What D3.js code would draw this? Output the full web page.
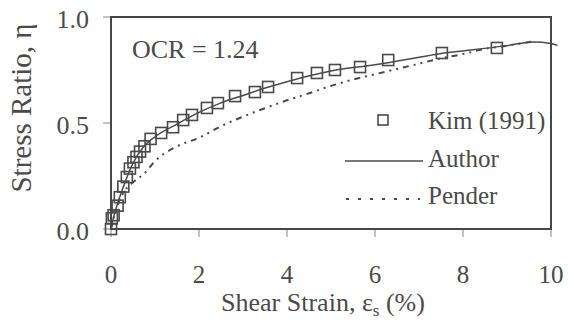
<!DOCTYPE html>
<html>
<head>
<meta charset="utf-8">
<script src="https://cdn.jsdelivr.net/npm/d3@7"></script>
</head>
<body style="margin:0">
<svg id="s" width="568" height="322"></svg>
<script>
// Measured stress ratio (Kim 1991)
const kimStrain = [0.00, 0.02, 0.06, 0.15, 0.20, 0.28, 0.36, 0.43, 0.51, 0.58, 0.66, 0.76, 0.90,
                   1.14, 1.41, 1.64, 1.84, 2.18, 2.43, 2.82, 3.27, 3.57, 4.23, 4.68, 5.09, 5.66,
                   6.30, 7.52, 8.77];
const kimRatio  = [0.00, 0.05, 0.065, 0.11, 0.15, 0.20, 0.245, 0.285, 0.315, 0.34, 0.365, 0.39, 0.425,
                   0.453, 0.48, 0.514, 0.538, 0.571, 0.594, 0.627, 0.646, 0.67, 0.712, 0.736, 0.75, 0.764,
                   0.797, 0.83, 0.854];

// Author's model prediction
const authorStrain = [0, 0.05, 0.15, 0.3, 0.5, 0.75, 1.0, 1.5, 2.0, 2.5, 3.0, 3.5, 4.0, 5.0, 6.0, 7.0, 7.5, 8.0, 9.0, 9.6, 10.0, 10.15];
const authorRatio  = [0, 0.05, 0.12, 0.21, 0.31, 0.39, 0.435, 0.495, 0.55, 0.595, 0.63, 0.665, 0.695, 0.745, 0.775, 0.81, 0.828, 0.84, 0.865, 0.882, 0.875, 0.866];

// Pender's model prediction
const penderStrain = [0, 0.1, 0.25, 0.5, 0.75, 1.0, 1.5, 2.0, 2.5, 3.0, 3.5, 4.0, 4.5, 5.0, 5.5, 6.0, 6.5, 7.0, 7.5, 8.0, 8.5, 9.0, 9.6];
const penderRatio  = [0, 0.08, 0.16, 0.22, 0.26, 0.32, 0.39, 0.43, 0.485, 0.53, 0.57, 0.607, 0.64, 0.675, 0.705, 0.73, 0.755, 0.78, 0.805, 0.825, 0.85, 0.865, 0.885];

const xTicks = [0, 2, 4, 6, 8, 10];
const yTicks = [0.0, 0.5, 1.0];

const legendLabels = ["Kim (1991)", "Author", "Pender"];

const ink = "#4a4a4a";
const serif = '"Liberation Serif"';

const svg = d3.select("#s");

const plot = { left: 111, right: 551, top: 17, bottom: 229 };

const x = d3.scaleLinear().domain([0, 10]).range([plot.left, plot.right]);
const y = d3.scaleLinear().domain([0, 1]).range([plot.bottom, plot.top]);
const fmtY = d3.format(".1f");

// Tick marks (outward) from the scales
svg.selectAll("line.xt").data(xTicks).join("line")
  .attr("class", "xt")
  .attr("x1", d => x(d)).attr("x2", d => x(d))
  .attr("y1", plot.bottom).attr("y2", plot.bottom + 8)
  .attr("stroke", "#9a9a9a").attr("stroke-width", 1.2);
svg.selectAll("line.yt").data(yTicks).join("line")
  .attr("class", "yt")
  .attr("x1", plot.left - 8).attr("x2", plot.left)
  .attr("y1", d => y(d)).attr("y2", d => y(d))
  .attr("stroke", "#9a9a9a").attr("stroke-width", 1.2);

// Tick labels
svg.selectAll("text.xl").data(xTicks).join("text")
  .attr("class", "xl")
  .attr("x", d => x(d)).attr("y", 283)
  .attr("text-anchor", "middle")
  .attr("font-family", serif).attr("font-size", 25).attr("fill", ink)
  .text(d => d);
svg.selectAll("text.yl").data(yTicks).join("text")
  .attr("class", "yl")
  .attr("x", plot.left - 22).attr("y", d => y(d) + 11)
  .attr("text-anchor", "end")
  .attr("font-family", serif).attr("font-size", 26).attr("fill", ink)
  .text(d => fmtY(d));

// Plot frame
svg.append("rect")
  .attr("x", plot.left).attr("y", plot.top)
  .attr("width", plot.right - plot.left).attr("height", plot.bottom - plot.top)
  .attr("fill", "none").attr("stroke", "#474747").attr("stroke-width", 2);

const line = d3.line().x(d => x(d[0])).y(d => y(d[1])).curve(d3.curveMonotoneX);

// Pender curve
svg.append("path")
  .datum(d3.zip(penderStrain, penderRatio))
  .attr("d", line)
  .attr("fill", "none").attr("stroke", ink).attr("stroke-width", 2)
  .attr("stroke-dasharray", "6,5,2,5,2,5");

// Author curve
svg.append("path")
  .datum(d3.zip(authorStrain, authorRatio))
  .attr("d", line)
  .attr("fill", "none").attr("stroke", ink).attr("stroke-width", 1.5);

// Kim data squares
const sq = 11;
svg.append("g").selectAll("rect")
  .data(d3.zip(kimStrain, kimRatio))
  .join("rect")
  .attr("x", d => x(d[0]) - sq / 2)
  .attr("y", d => y(d[1]) - sq / 2)
  .attr("width", sq).attr("height", sq)
  .attr("fill", "none").attr("stroke", ink).attr("stroke-width", 1.6);

// Annotation
svg.append("text").attr("x", 132).attr("y", 58)
  .attr("font-family", serif).attr("font-size", 26).attr("fill", ink)
  .text("OCR = 1.24");

// Legend
svg.append("rect").attr("x", 378).attr("y", 115).attr("width", 10).attr("height", 10)
  .attr("fill", "none").attr("stroke", ink).attr("stroke-width", 1.6);
svg.append("line").attr("x1", 345).attr("x2", 423).attr("y1", 161).attr("y2", 161)
  .attr("stroke", ink).attr("stroke-width", 1.5);
svg.append("line").attr("x1", 346).attr("x2", 420).attr("y1", 199).attr("y2", 199)
  .attr("stroke", ink).attr("stroke-width", 2).attr("stroke-dasharray", "3,9");
svg.selectAll("text.leg").data(legendLabels).join("text")
  .attr("class", "leg")
  .attr("x", 428)
  .attr("y", (d, i) => [129, 167, 204][i])
  .attr("font-family", serif).attr("font-size", 25).attr("fill", ink)
  .text(d => d);

// Axis titles
const xt = svg.append("text").attr("x", 323).attr("y", 311)
  .attr("text-anchor", "middle")
  .attr("font-family", serif).attr("font-size", 26).attr("fill", ink);
xt.append("tspan").text("Shear Strain, ε");
xt.append("tspan").attr("dy", 5).attr("font-size", 17).text("s");
xt.append("tspan").attr("dy", -5).text(" (%)");

svg.append("text")
  .attr("transform", "translate(31,108) rotate(-90)")
  .attr("text-anchor", "middle")
  .attr("font-family", serif).attr("font-size", 29).attr("fill", ink)
  .text("Stress Ratio, η");
</script>
</body>
</html>
